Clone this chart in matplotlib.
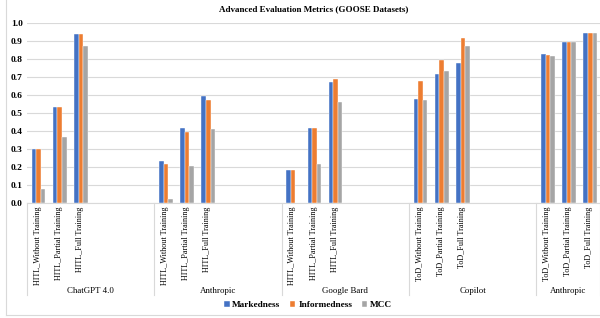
import matplotlib
matplotlib.use("Agg")
import matplotlib.pyplot as plt
import matplotlib.transforms as mtransforms
import numpy as np

plt.rcParams["font.family"] = ["Liberation Serif", "DejaVu Serif"]

# ── Data ───────────────────────────────────────────────────────────────────────
GROUPS = ["ChatGPT 4.0", "Anthropic", "Google Bard", "Copilot", "Anthropic"]
SLOTS_PER_GROUP = [6, 6, 6, 6, 3]
CATEGORIES = [
    ["HITL_Without Training", "HITL_Partial Training", "HITL_Full Training"],
    ["HITL_Without Training", "HITL_Partial Training", "HITL_Full Training"],
    ["HITL_Without Training", "HITL_Partial Training", "HITL_Full Training"],
    ["ToD_Without Training", "ToD_Partial Training", "ToD_Full Training"],
    ["ToD_Without Training", "ToD_Partial Training", "ToD_Full Training"],
]
markedness   = [0.30, 0.533, 0.94,  0.231, 0.415, 0.597,  0.184, 0.415, 0.673,
                0.576, 0.717, 0.777,  0.827, 0.896, 0.946]
informedness = [0.30, 0.533, 0.94,  0.218, 0.394, 0.571,  0.180, 0.415, 0.688,
                0.677, 0.797, 0.918,  0.823, 0.896, 0.946]
mcc          = [0.078, 0.366, 0.872,  0.022, 0.205, 0.413,  0.0, 0.216, 0.561,
                0.575, 0.732, 0.872,  0.818, 0.896, 0.946]

SERIES = [("Markedness", markedness, "#4472C4"),
          ("Informedness", informedness, "#ED7D31"),
          ("MCC", mcc, "#A5A5A5")]

# slot positions of filled categories (empty slots are blank rows in the sheet)
pos, labels, starts = [], [], []
s = 0
for g, n in enumerate(SLOTS_PER_GROUP):
    starts.append(s)
    for j, lab in enumerate(CATEGORIES[g]):
        pos.append(s + j + 0.5)
        labels.append(lab)
    s += n
starts.append(s)
pos = np.array(pos)

fig = plt.figure(figsize=(6.0, 3.18), dpi=100)
ax = fig.add_axes([27 / 600, 1 - 202.7 / 318, 573 / 600, 179.4 / 318])

bw = 0.215
for k, (name, vals, col) in enumerate(SERIES):
    ax.bar(pos + (k - 1) * bw + 0.04, vals, width=bw, color=col,
           edgecolor="white", linewidth=0.3, label=name, zorder=3)

ax.set_xlim(0, s)
ax.set_ylim(0, 1.0)
ax.set_yticks(np.arange(0, 1.01, 0.1))
ax.set_yticklabels([f"{v:.1f}" for v in np.arange(0, 1.01, 0.1)],
                   fontsize=6.8, fontweight="bold")
ax.grid(axis="y", color="#D9D9D9", linewidth=0.8, zorder=0)
ax.set_axisbelow(True)
for sp in ["top", "right", "left"]:
    ax.spines[sp].set_visible(False)
ax.spines["bottom"].set_color("#D9D9D9")
ax.tick_params(axis="both", length=0, pad=3)

ax.set_xticks(pos)
ax.set_xticklabels(labels, rotation=90, fontsize=5.9)

# group separators and group labels
trans = mtransforms.blended_transform_factory(ax.transData, ax.transAxes)
for b in starts:
    ax.plot([b, b], [0, -0.515], transform=trans, color="#D9D9D9",
            linewidth=0.8, clip_on=False)
for g, name in enumerate(GROUPS):
    c = (starts[g] + starts[g + 1]) / 2
    ax.text(c, -0.49, name, transform=trans, ha="center", va="center",
            fontsize=6.4, family=["Liberation Serif", "DejaVu Serif"])

ax.set_title("Advanced Evaluation Metrics (GOOSE Datasets)", fontsize=6.5,
             fontweight="bold", pad=9)

leg = fig.legend(loc="center", bbox_to_anchor=(308 / 600, 1 - 305 / 318),
                 ncol=3, frameon=False, handlelength=0.6, handleheight=0.6,
                 handletextpad=0.3, columnspacing=1.0,
                 prop={"size": 6.7, "weight": "bold"})

# outer chart border
fig.add_artist(plt.Line2D([5.7 / 600, 5.7 / 600], [1 - 315 / 318, 1.0],
                          transform=fig.transFigure, color="#D9D9D9", linewidth=0.8))
fig.add_artist(plt.Line2D([5.7 / 600, 1.0], [1 - 315 / 318, 1 - 315 / 318],
                          transform=fig.transFigure, color="#D9D9D9", linewidth=0.8))

fig.savefig("out.png", dpi=100)
